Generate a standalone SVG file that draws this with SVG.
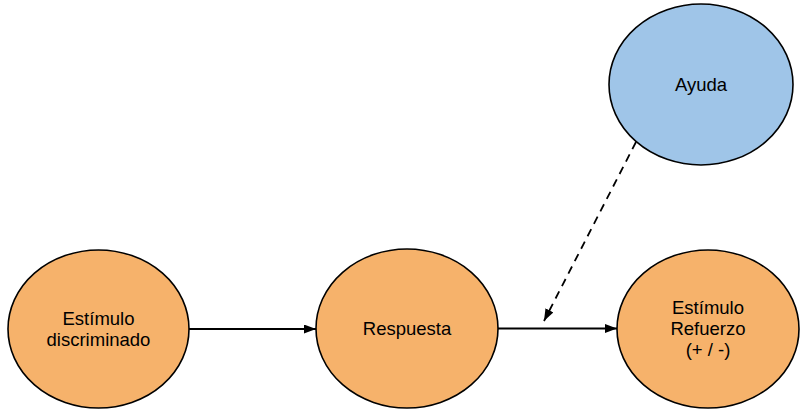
<svg xmlns="http://www.w3.org/2000/svg" width="806" height="418" viewBox="0 0 806 418">
<defs>
<marker id="ah" markerWidth="12" markerHeight="9" refX="12" refY="4.5" orient="auto" markerUnits="userSpaceOnUse">
<path d="M0,0 L12,4.5 L0,9 Z" fill="#000"/>
</marker>
</defs>
<style>
.o{fill:#F6B26B;stroke:#000;stroke-width:1.6}
.b{fill:#9FC5E8;stroke:#000;stroke-width:1.6}
text{font-family:"Liberation Sans",Arial,sans-serif;font-size:18.5px;fill:#000;text-anchor:middle}
.c{stroke:#000;stroke-width:1.8;fill:none}
</style>
<rect width="806" height="418" fill="#fff"/>
<g id="connectors">
<line class="c" x1="189" y1="329" x2="316" y2="329" marker-end="url(#ah)"/>
<line class="c" x1="498" y1="328.5" x2="617" y2="328.5" marker-end="url(#ah)"/>
<line class="c" x1="636" y1="142" x2="544" y2="321" stroke-dasharray="8,6" marker-end="url(#ah)"/>
</g>
<g id="estimulo-discriminado">
<ellipse class="o" cx="98.5" cy="329" rx="90.5" ry="79"/>
<text x="98.5" y="325">Estímulo</text>
<text x="98.5" y="346">discriminado</text>
</g>
<g id="respuesta">
<ellipse class="o" cx="407" cy="328.5" rx="91" ry="79.5"/>
<text x="407" y="335">Respuesta</text>
</g>
<g id="estimulo-refuerzo">
<ellipse class="o" cx="708" cy="329" rx="91" ry="79"/>
<text x="708" y="314">Estímulo</text>
<text x="708" y="335">Refuerzo</text>
<text x="708" y="356">(+ / -)</text>
</g>
<g id="ayuda">
<ellipse class="b" cx="701" cy="84.5" rx="92" ry="80.5"/>
<text x="701" y="91">Ayuda</text>
</g>
</svg>
